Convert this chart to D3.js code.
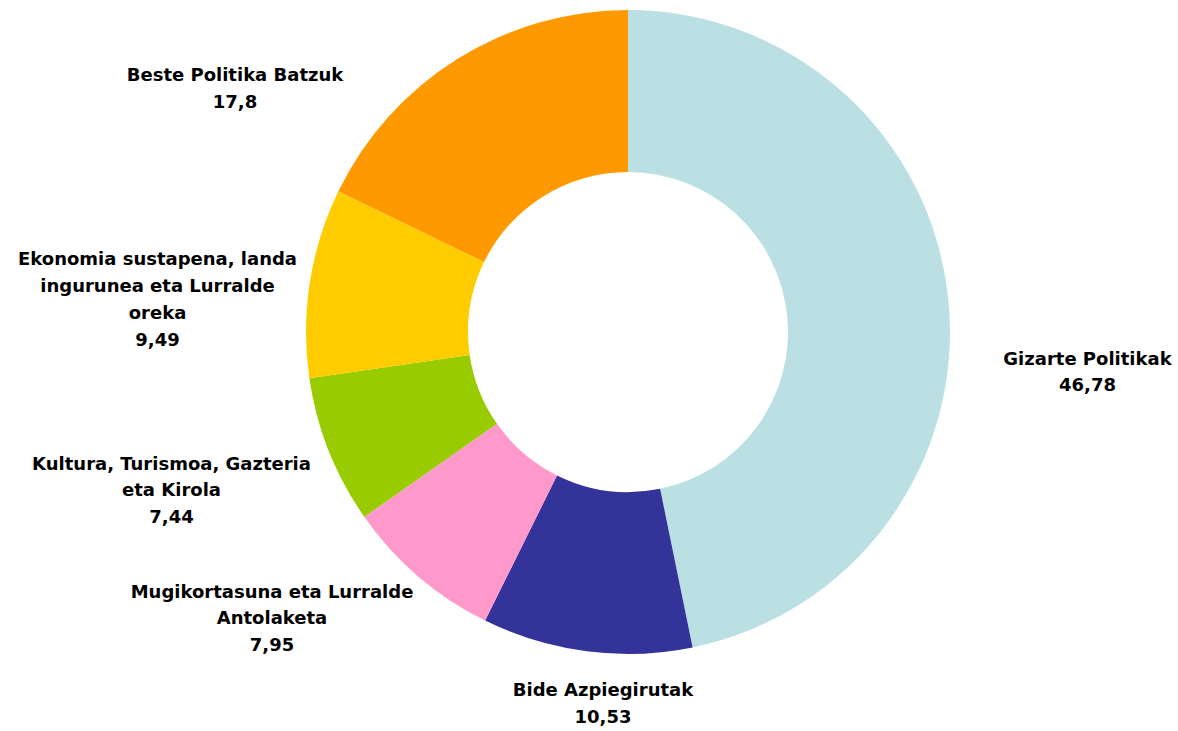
<!DOCTYPE html>
<html>
<head>
<meta charset="utf-8">
<script src="https://cdn.jsdelivr.net/npm/d3@7"></script>
<style>
  body { margin: 0; background: #fff; }
  .label { font-family: "DejaVu Sans", sans-serif; font-weight: bold; font-size: 18px; fill: #000; }
</style>
</head>
<body>
<div id="container"></div>
<script>
// Datuak
const categories = ["Gizarte Politikak", "Bide Azpiegirutak", "Mugikortasuna eta Lurralde\nAntolaketa",
                    "Kultura, Turismoa, Gazteria\neta Kirola", "Ekonomia sustapena, landa\ningurunea eta Lurralde\noreka",
                    "Beste Politika Batzuk"];
const values = [46.78, 10.53, 7.95, 7.44, 9.49, 17.8];
const colors = ["#BAE0E3", "#333399", "#FF99CC", "#99CC00", "#FFCC00", "#FF9900"];

const WIDTH = 1178,
      HEIGHT = 731;

const cx = 628, cy = 332;
const outerR = 322, innerR = 160;
const lineH = 26.7;

// etiketen zentroa, tartaren zentrotik
const labelOffset = [[459.5, 39.5], [-25, 371], [-356, 286], [-456.5, 158], [-470.5, -33], [-393, -244]];

const svg = d3.select('#container')
    .append('svg')
    .attr("width", WIDTH)
    .attr("height", HEIGHT);

const g = svg.append("g")
    .attr("transform", `translate(${cx}, ${cy})`);

const pie = d3.pie().sort(null).value(d => d);
const arc = d3.arc().innerRadius(innerR).outerRadius(outerR);

g.selectAll("path")
    .data(pie(values))
    .join("path")
    .attr("d", arc)
    .attr("fill", (d, i) => colors[i]);

const labels = g.selectAll(".label")
    .data(categories)
    .join("text")
    .attr("class", "label")
    .attr("text-anchor", "middle");

labels.each(function(name, i) {
    const lines = name.split("\n").concat([String(values[i]).replace(".", ",")]);
    const [ox, oy] = labelOffset[i];
    const y0 = oy - (lines.length - 1) / 2 * lineH;
    d3.select(this).selectAll("tspan")
        .data(lines)
        .join("tspan")
        .attr("x", ox)
        .attr("y", (d, j) => y0 + j * lineH)
        .attr("dy", "0.36em")
        .text(d => d);
});
</script>
</body>
</html>
